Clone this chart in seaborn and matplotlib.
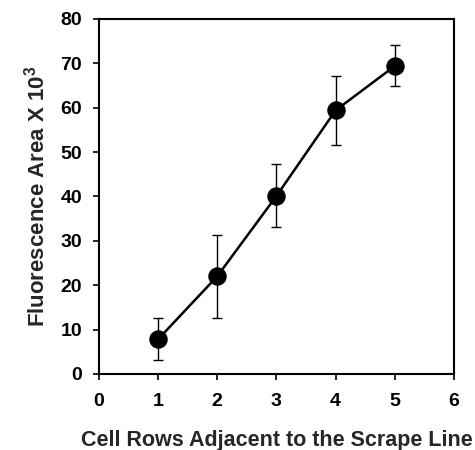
import matplotlib
matplotlib.use("Agg")
import matplotlib.pyplot as plt
import seaborn as sns
import numpy as np
import pandas as pd

rows = [1, 2, 3, 4, 5]
fluor = [7.8, 22.0, 40.1, 59.4, 69.4]
err_low = [4.7, 9.3, 7.0, 7.9, 4.6]
err_high = [4.7, 9.4, 7.1, 7.8, 4.7]
xticks = [0, 1, 2, 3, 4, 5, 6]
yticks = [0, 10, 20, 30, 40, 50, 60, 70, 80]

sns.set_style("ticks")
plt.rcParams['font.family'] = ['Liberation Sans', 'DejaVu Sans']
plt.rcParams['font.weight'] = 'bold'
plt.rcParams['mathtext.fontset'] = 'custom'
plt.rcParams['mathtext.bf'] = 'Liberation Sans:bold'
plt.rcParams['mathtext.rm'] = 'Liberation Sans:bold'

df = pd.DataFrame({"rows": rows, "fluor": fluor})

fig = plt.figure(figsize=(4.75, 4.5), dpi=100)
ax = fig.add_axes([0.208, 0.169, 0.748, 0.789])

ax.errorbar(rows, fluor, yerr=[err_low, err_high], fmt='none', ecolor='black',
            elinewidth=1.0, capsize=3.3, capthick=1.0, zorder=2)
sns.lineplot(data=df, x="rows", y="fluor", ax=ax, color='black', linewidth=1.8,
             marker='o', markersize=12.5, markerfacecolor='black',
             markeredgecolor='black', zorder=3)

ax.set_xlim(0, 6)
ax.set_ylim(0, 80)
ax.set_xticks(xticks)
ax.set_yticks(yticks)
ax.tick_params(axis='both', direction='out', length=4, width=1.2, labelsize=14,
               pad=8, colors='black')
ax.tick_params(axis='x', pad=10)
for lab in ax.get_xticklabels() + ax.get_yticklabels():
    lab.set_fontweight('bold')
for s in ax.spines.values():
    s.set_visible(True)
    s.set_linewidth(1.5)
    s.set_color('black')

ax.set_xlabel("Cell Rows Adjacent to the Scrape Line", fontsize=15.5,
              fontweight='bold', labelpad=14)
ax.set_ylabel(r"Fluorescence Area X 10$^{\mathbf{3}}$", fontsize=16,
              fontweight='bold', labelpad=8)

fig.savefig("out.png", dpi=100)
